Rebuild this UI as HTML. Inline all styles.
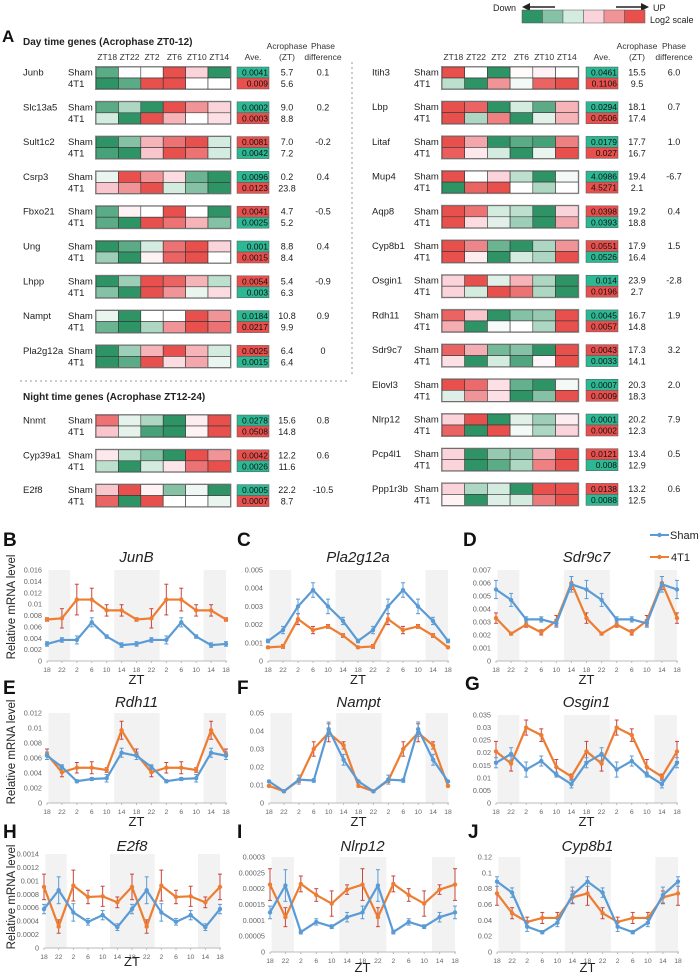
<!DOCTYPE html>
<html><head><meta charset="utf-8"><style>
body{margin:0;background:#fff;}
svg{display:block;font-family:"Liberation Sans",Arial,sans-serif;}
</style></head><body>
<svg id="fig" width="700" height="980" viewBox="0 0 700 980"></svg>
<script>
// ---------- Heatmap data (log2 levels -3 green .. 3 red) ----------
const leftGenes=["Junb","Slc13a5","Sult1c2","Csrp3","Fbxo21","Ung","Lhpp","Nampt","Pla2g12a","Nnmt","Cyp39a1","E2f8"];
const leftSham=[[-2.5,0,0,3,1,-3],[-2.5,-1.5,-3,3,2,1],[-3,-2,1.5,2.5,3,-1],[-0.5,3,2,0.8,-2.3,-3],[-2.5,0.3,0,3,0,-3],[-3,-2.5,-1,2.5,3,1],[-3,-1.7,3,2.7,1.5,-1.3],[-0.5,-3,0,0,3,2],[-3,-1.7,1.5,3,1.5,-1],[2.5,-0.6,-1.5,-3,0.4,3],[0.5,-1.3,-2,-3,3,2],[1.2,3,0.3,-2,-0.4,-3]];
const left4T1=[[-3,-2.5,3,3,0,0],[-1,-3,3,1.5,0,0.7],[-2.7,-3,1.2,3,2.5,-1],[1.2,2,3,-1,-2,-3],[-2.5,-3,3,2.5,1.5,-2],[-1.7,-3,0.3,2.7,3,0],[-2,-3,3,2,-0.5,0.8],[-2.3,-3,-1.5,2,3,2.5],[-3,-2.5,3,0.8,1.7,-0.5],[1.2,-0.6,-2.7,-3,0.3,3],[-1.3,-3,-1,0.6,2.5,3],[2.7,-3,3,0,0,-0.5]];
const leftAveSham=["0.0041","0.0002","0.0081","0.0096","0.0041","0.001","0.0054","0.0184","0.0025","0.0278","0.0042","0.0005"];
const leftAve4T1=["0.009","0.0003","0.0042","0.0123","0.0025","0.0015","0.003","0.0217","0.0015","0.0508","0.0026","0.0007"];
const leftAveShamUp=[0,0,1,0,1,0,1,0,1,0,1,0];
const leftAcroSham=["5.7","9.0","7.0","0.2","4.7","8.8","5.4","10.8","6.4","15.6","12.2","22.2"];
const leftAcro4T1=["5.6","8.8","7.2","23.8","5.2","8.4","6.3","9.9","6.4","14.8","11.6","8.7"];
const leftPhase=["0.1","0.2","-0.2","0.4","-0.5","0.4","-0.9","0.9","0","0.8","0.6","-10.5"];

const rightGenes=["Itih3","Lbp","Litaf","Mup4","Aqp8","Cyp8b1","Osgin1","Rdh11","Sdr9c7","Elovl3","Nlrp12","Pcp4l1","Ppp1r3b"];
const rightSham=[[3,0,-3,0.1,0.3,0],[3,2.7,-3,-1,-2.5,1.5],[3,1.7,-3,-2.5,-2.7,2.3],[3,0,1,-1.3,-3,-0.3],[3,2.5,-1,-1.3,-3,1],[3,2.2,-2.3,-3,-1.5,2],[1,3,-0.7,1.5,-1.5,-3],[2.7,1.2,-3,-2,-1.8,3],[2.7,1.6,-2.2,-2,-3,3],[3,2.6,0.7,-2.4,-3,-0.3],[1,3,-3,-0.7,-1.7,0.4],[1,-3,-1.8,-1.8,1.6,3],[1,-1.5,-1,-3,3,3]];
const right4T1=[[-1.3,-3,2,-0.3,2.7,3],[3,-1.5,2.3,-3,-0.7,1.5],[2.8,0.5,-1,-3,-0.5,3],[-3,2.7,3,0,-1.5,0],[3,0.8,-0.7,-1.7,-3,1.7],[3,0.4,-3,-1,-1.5,3],[1,-1,3,2.5,-1.5,-3],[1.6,-3,-0.2,0,-1.5,3],[0.7,-3,-1,-2.6,0.2,3],[-0.8,2,0.7,-3,-2,3],[2.7,-3,3,-0.3,-1.5,1],[1,-3,-2.5,-1.5,2.3,3],[0.3,-3,-0.8,-1,2.4,3]];
const rightAveSham=["0.0461","0.0294","0.0179","4.0986","0.0398","0.0551","0.014","0.0045","0.0043","0.0007","0.0001","0.0121","0.0138"];
const rightAve4T1=["0.1106","0.0506","0.027","4.5271","0.0393","0.0526","0.0196","0.0057","0.0033","0.0009","0.0002","0.008","0.0088"];
const rightAveShamUp=[0,0,0,0,1,1,0,0,1,0,0,1,1];
const rightAcroSham=["15.5","18.1","17.7","19.4","19.2","17.9","23.9","16.7","17.3","20.3","20.2","13.4","13.2"];
const rightAcro4T1=["9.5","17.4","16.7","2.1","18.8","16.4","2.7","14.8","14.1","18.3","12.3","12.9","12.5"];
const rightPhase=["6.0","0.7","1.0","-6.7","0.4","1.5","-2.8","1.9","3.2","2.0","7.9","0.5","0.6"];
const colHeads=["ZT18","ZT22","ZT2","ZT6","ZT10","ZT14"];

// ---------- Line chart data ----------
const ztLabels=["18","22","2","6","10","14","18","22","2","6","10","14","18"];
const junbSham=[.003,.0037,.0037,.0068,.0043,.0028,.003,.0037,.0037,.0068,.0043,.0028,.003];
const junbShamErr=[.0004,.0004,.0007,.0008,.0003,.0004,.0004,.0004,.0007,.0008,.0003,.0004,.0004];
const junb4T1=[.0073,.0075,.0108,.0108,.0089,.0089,.0073,.0075,.0108,.0108,.0089,.0089,.0073];
const junb4T1Err=[.0003,.0017,.0027,.002,.001,.001,.0003,.0017,.0027,.002,.001,.001,.0003];
const plaSham=[.0011,.0017,.003,.0039,.003,.0022,.0011,.0017,.003,.0039,.003,.0022,.0011];
const plaShamErr=[.0001,.0002,.0004,.0004,.0004,.0002,.0001,.0002,.0004,.0004,.0004,.0002,.0001];
const pla4T1=[.00075,.0008,.0023,.0017,.0019,.0014,.00075,.0008,.0023,.0017,.0019,.0014,.00075];
const pla4T1Err=[.00005,.0001,.0003,.0002,.0001,.0001,.00005,.0001,.0003,.0002,.0001,.0001,.00005];
const sdrSham=[.0055,.0047,.0032,.0032,.0029,.0059,.0055,.0047,.0032,.0032,.0029,.0059,.0055];
const sdrShamErr=[.0007,.0005,.0002,.0002,.0003,.0006,.0007,.0005,.0002,.0002,.0003,.0006,.0007];
const sdr4T1=[.0033,.0021,.0028,.0022,.0031,.006,.0033,.0021,.0028,.0022,.0031,.006,.0033];
const sdr4T1Err=[.0004,.0001,.0002,.0002,.0004,.0005,.0004,.0001,.0002,.0002,.0004,.0005,.0004];
const rdhSham=[.0063,.0048,.0029,.0032,.0033,.0067,.0063,.0048,.0029,.0032,.0033,.0067,.0063];
const rdhShamErr=[.0005,.0003,.0002,.0002,.0005,.0006,.0005,.0003,.0002,.0002,.0005,.0006,.0005];
const rdh4T1=[.0065,.0041,.0047,.0047,.0044,.0097,.0065,.0041,.0047,.0047,.0044,.0097,.0065];
const rdh4T1Err=[.0007,.0006,.0007,.0008,.0003,.0012,.0007,.0006,.0007,.0008,.0003,.0012,.0007];
const namSham=[.012,.0065,.013,.0125,.041,.024,.012,.0065,.013,.0125,.041,.024,.012];
const namShamErr=[.0005,.0005,.0025,.001,.004,.003,.0005,.0005,.0025,.001,.004,.003,.0005];
const nam4T1=[.0095,.0065,.0125,.030,.039,.032,.0095,.0065,.0125,.030,.039,.032,.0095];
const nam4T1Err=[.0005,.0005,.001,.004,.005,.002,.0005,.0005,.001,.004,.005,.002,.0005];
const osgSham=[.016,.0195,.0133,.0167,.0113,.0075,.016,.0195,.0133,.0167,.0113,.0075,.016];
const osgShamErr=[.002,.0025,.003,.002,.001,.0015,.002,.0025,.003,.002,.001,.0015,.002];
const osg4T1=[.0205,.0157,.030,.027,.0143,.0105,.0205,.0157,.030,.027,.0143,.0105,.0205];
const osg4T1Err=[.004,.003,.003,.0025,.003,.001,.004,.003,.003,.0025,.003,.001,.004];
const e2fSham=[.00058,.00086,.00053,.00039,.00049,.00031,.00058,.00086,.00053,.00039,.00049,.00031,.00058];
const e2fShamErr=[.00007,.0002,.00013,.00005,.00007,.00005,.00007,.0002,.00013,.00005,.00007,.00005,.00007];
const e2f4T1=[.00091,.00032,.00093,.00076,.00077,.00068,.00091,.00032,.00093,.00076,.00077,.00068,.00091];
const e2f4T1Err=[.00019,.0001,.00023,.0001,.00015,.00008,.00019,.0001,.00023,.0001,.00015,.00008,.00019];
const nlrSham=[.000125,.00021,.000063,.000095,.00008,.00011,.000125,.00021,.000063,.000095,.00008,.00011,.000125];
const nlrShamErr=[.00002,.00005,.000006,.00001,.000006,.000015,.00002,.00005,.000006,.00001,.000006,.000015,.00002];
const nlr4T1=[.000213,.00011,.000215,.00018,.000153,.000197,.000213,.00011,.000215,.00018,.000153,.000197,.000213];
const nlr4T1Err=[.00005,.00003,.000025,.00002,.00004,.000015,.00005,.00003,.000025,.00002,.00004,.000015,.00005];
const cypSham=[.089,.075,.032,.025,.037,.072,.089,.075,.032,.025,.037,.072,.089];
const cypShamErr=[.006,.006,.006,.002,.005,.01,.006,.006,.006,.002,.005,.01,.006];
const cyp4T1=[.074,.049,.038,.043,.043,.069,.074,.049,.038,.043,.043,.069,.074];
const cyp4T1Err=[.015,.007,.006,.007,.007,.008,.015,.007,.006,.007,.007,.008,.015];

const NS="http://www.w3.org/2000/svg";
const svg=document.getElementById('fig');
function el(tag,attrs,parent,txt){const e=document.createElementNS(NS,tag);for(const k in attrs)e.setAttribute(k,attrs[k]);if(txt!==undefined)e.textContent=txt;(parent||svg).appendChild(e);return e;}

const anchors=[[46,148,102],[133,194,165],[212,235,224],[255,255,255],[251,211,218],[240,148,152],[232,80,78]];
function lvlColor(v){const t=Math.max(-3,Math.min(3,v))+3;const i=Math.min(5,Math.floor(t));const f=t-i;const a=anchors[i],b=anchors[i+1];
 return `rgb(${Math.round(a[0]+(b[0]-a[0])*f)},${Math.round(a[1]+(b[1]-a[1])*f)},${Math.round(a[2]+(b[2]-a[2])*f)})`;}

// Legend
const lg=el('g',{});


el('text',{x:493,y:11,'font-size':9,fill:'#222'},lg,'Down');
el('line',{x1:555,y1:7,x2:527,y2:7,stroke:'#222','stroke-width':1.5},lg);
el('path',{d:'M522 7 L530 3 L530 11 Z',fill:'#222'},lg);
el('line',{x1:616,y1:7,x2:644,y2:7,stroke:'#222','stroke-width':1.5},lg);
el('path',{d:'M649 7 L641 3 L641 11 Z',fill:'#222'},lg);
el('text',{x:653,y:11,'font-size':9,fill:'#222'},lg,'UP');
[-3,-2,-1,1,2,3].forEach((v,i)=>{const r=el('rect',{x:522+i*20.5,y:10,width:20.5,height:13,fill:lvlColor(v),stroke:'#555','stroke-width':0.5},lg);
 
 });
el('text',{x:650,y:23,'font-size':9,fill:'#222'},lg,'Log2 scale');

el('text',{x:2,y:42,'font-size':17,'font-weight':'bold',fill:'#111'},svg,'A');
const dt=el('text',{x:23,y:45,'font-size':10,'font-weight':'bold',fill:'#222'},svg,'Day time genes (Acrophase ZT0-12)');


const nt=el('text',{x:23,y:400,'font-size':10,'font-weight':'bold',fill:'#222'},svg,'Night time genes (Acrophase ZT12-24)');


el('line',{x1:20,y1:381,x2:350,y2:381,stroke:'#999','stroke-width':1,'stroke-dasharray':'2,3'});
el('line',{x1:352,y1:62,x2:352,y2:375,stroke:'#999','stroke-width':1,'stroke-dasharray':'2,3'});

function heatSide(cfg){
 const hx=cfg.cellX0,cw=cfg.cellW;
 colHeads.forEach((h,i)=>el('text',{x:hx+cw*i+cw/2,y:60,'font-size':8.5,'text-anchor':'middle',fill:'#333'},svg,h));
 el('text',{x:cfg.aveX+16,y:60,'font-size':8.5,'text-anchor':'middle',fill:'#333'},svg,'Ave.');
 el('text',{x:cfg.acroX,y:49,'font-size':8.5,'text-anchor':'middle',fill:'#333'},svg,'Acrophase');
 el('text',{x:cfg.acroX,y:60,'font-size':8.5,'text-anchor':'middle',fill:'#333'},svg,'(ZT)');
 el('text',{x:cfg.phX,y:49,'font-size':8.5,'text-anchor':'middle',fill:'#333'},svg,'Phase');
 el('text',{x:cfg.phX,y:60,'font-size':8.5,'text-anchor':'middle',fill:'#333'},svg,'difference');
 cfg.genes.forEach((g,gi)=>{
  const cy=cfg.centers[gi];const top=cy-5;
  const grp=el('g',{});
  
  
  el('text',{x:cfg.nameX,y:top+8.5,'font-size':9.5,fill:'#222'},grp,g);
  el('text',{x:cfg.grpX,y:top+8.5,'font-size':9.5,fill:'#222'},grp,'Sham');
  el('text',{x:cfg.grpX,y:top+20,'font-size':9.5,fill:'#222'},grp,'4T1');
  [cfg.sham[gi],cfg.t1[gi]].forEach((row,ri)=>{
   row.forEach((v,ci)=>{const r=el('rect',{x:hx+ci*cw,y:top+ri*11,width:cw,height:11,fill:lvlColor(v),stroke:'#333','stroke-width':0.6},grp);
    
    });
  });
  el('rect',{x:hx-0.5,y:top-0.5,width:cw*6+1,height:23,fill:'none',stroke:'#888','stroke-width':1},grp);
  const up=cfg.aveUp[gi];
  const teal='#2db894',red='#e8504e';
  el('rect',{x:cfg.aveX,y:top,width:32,height:11,fill:up?red:teal,stroke:'#555','stroke-width':0.5},grp);
  el('rect',{x:cfg.aveX,y:top+11,width:32,height:11,fill:up?teal:red,stroke:'#555','stroke-width':0.5},grp);
  el('text',{x:cfg.aveX+31,y:top+8.5,'font-size':8.5,'text-anchor':'end',fill:'#111'},grp,cfg.aveS[gi]);
  el('text',{x:cfg.aveX+31,y:top+19.5,'font-size':8.5,'text-anchor':'end',fill:'#111'},grp,cfg.aveT[gi]);
  el('text',{x:cfg.acroX,y:top+8.5,'font-size':9,'text-anchor':'middle',fill:'#222'},grp,cfg.acS[gi]);
  el('text',{x:cfg.acroX,y:top+20,'font-size':9,'text-anchor':'middle',fill:'#222'},grp,cfg.acT[gi]);
  el('text',{x:cfg.phX,y:top+8.5,'font-size':9,'text-anchor':'middle',fill:'#222'},grp,cfg.ph[gi]);
 });
}
const lc=[];for(let i=0;i<9;i++)lc.push(72+34.8*i);for(let i=0;i<3;i++)lc.push(420+34.8*i);
const rc=[];for(let i=0;i<13;i++)rc.push(72+34.7*i);
heatSide({genes:leftGenes,sham:leftSham,t1:left4T1,aveS:leftAveSham,aveT:leftAve4T1,aveUp:leftAveShamUp,acS:leftAcroSham,acT:leftAcro4T1,ph:leftPhase,centers:lc,cellX0:96,cellW:22.4,aveX:237,acroX:287,phX:323,nameX:23,grpX:68});
heatSide({genes:rightGenes,sham:rightSham,t1:right4T1,aveS:rightAveSham,aveT:rightAve4T1,aveUp:rightAveShamUp,acS:rightAcroSham,acT:rightAcro4T1,ph:rightPhase,centers:rc,cellX0:442,cellW:22.7,aveX:586,acroX:637,phX:674,nameX:372,grpX:414});

// ---------- line charts ----------
const panels=[
 {id:'junb',L:'B',lx:3,ly:546,t:'JunB',x0:47,x1:226,y0:570,y1:661,ymax:.016,step:.002,d:3,s:junbSham,se:junbShamErr,o:junb4T1,oe:junb4T1Err,ty:562,zty:684},
 {id:'pla2g12a',L:'C',lx:237,ly:546,t:'Pla2g12a',x0:268,x1:448,y0:570,y1:661,ymax:.005,step:.001,d:3,s:plaSham,se:plaShamErr,o:pla4T1,oe:pla4T1Err,ty:562,zty:684},
 {id:'sdr9c7',L:'D',lx:463,ly:546,t:'Sdr9c7',x0:496,x1:677,y0:570,y1:661,ymax:.007,step:.001,d:3,s:sdrSham,se:sdrShamErr,o:sdr4T1,oe:sdr4T1Err,ty:562,zty:684},
 {id:'rdh11',L:'E',lx:3,ly:694,t:'Rdh11',x0:47,x1:226,y0:713,y1:803,ymax:.012,step:.002,d:3,s:rdhSham,se:rdhShamErr,o:rdh4T1,oe:rdh4T1Err,ty:707,zty:826},
 {id:'nampt',L:'F',lx:237,ly:694,t:'Nampt',x0:269,x1:448,y0:713,y1:803,ymax:.05,step:.01,d:2,s:namSham,se:namShamErr,o:nam4T1,oe:nam4T1Err,ty:707,zty:826},
 {id:'osgin1',L:'G',lx:465,ly:690,t:'Osgin1',x0:496,x1:677,y0:715,y1:803,ymax:.035,step:.005,d:3,s:osgSham,se:osgShamErr,o:osg4T1,oe:osg4T1Err,ty:707,zty:826},
 {id:'e2f8',L:'H',lx:3,ly:838,t:'E2f8',x0:44,x1:220,y0:854,y1:948,ymax:.0014,step:.0002,d:4,s:e2fSham,se:e2fShamErr,o:e2f4T1,oe:e2f4T1Err,ty:851,zty:966},
 {id:'nlrp12',L:'I',lx:237,ly:838,t:'Nlrp12',x0:270,x1:455,y0:857,y1:952,ymax:.0003,step:.00005,d:5,s:nlrSham,se:nlrShamErr,o:nlr4T1,oe:nlr4T1Err,ty:851,zty:972},
 {id:'cyp8b1',L:'J',lx:468,ly:838,t:'Cyp8b1',x0:497,x1:678,y0:857,y1:952,ymax:.12,step:.02,d:2,s:cypSham,se:cypShamErr,o:cyp4T1,oe:cyp4T1Err,ty:851,zty:972}
];
const shading=[[0.1,1.55],[4.5,7.55],[10.5,12]];
function fmt(v,d){if(v===0)return '0';let s=v.toFixed(d);s=s.replace(/0+$/,'').replace(/\.$/,'');return s;}
panels.forEach(p=>{
 const g=el('g',{});
 
 
 const n=ztLabels.length;
 const xs=i=>p.x0+(p.x1-p.x0)*i/(n-1);
 const ys=v=>p.y1-(p.y1-p.y0)*v/p.ymax;
 shading.forEach(s=>el('rect',{x:xs(s[0]),y:p.y0,width:xs(s[1])-xs(s[0]),height:p.y1-p.y0,fill:'#f2f2f2'},g));
 el('line',{x1:p.x0,y1:p.y1,x2:p.x1+1,y2:p.y1,stroke:'#bbb','stroke-width':1},g);
 const nt=Math.round(p.ymax/p.step);
 for(let k=0;k<=nt;k++){const v=k*p.step;el('text',{x:p.x0-5,y:ys(v)+2.5,'font-size':7.3,'text-anchor':'end',fill:'#666'},g,fmt(v,p.d));}
 ztLabels.forEach((l,i)=>{el('line',{x1:xs(i),y1:p.y1,x2:xs(i),y2:p.y1+2,stroke:'#bbb'},g);
  el('text',{x:xs(i),y:p.y1+11,'font-size':6.8,'text-anchor':'middle',fill:'#666'},g,l);});
 el('text',{x:(p.x0+p.x1)/2,y:p.ty,'font-size':15,'font-style':'italic','text-anchor':'middle',fill:'#222'},g,p.t);
 el('text',{x:(p.x0+p.x1)/2,y:p.zty,'font-size':13,'text-anchor':'middle',fill:'#222'},g,'ZT');
 el('text',{x:p.lx,y:p.ly,'font-size':19,'font-weight':'bold',fill:'#111'},g,p.L);
 [[p.o,p.oe,'#ed7d31','#c9463d','4t1'],[p.s,p.se,'#5b9bd5','#5b9bd5','sham']].forEach(([vals,err,col,ecol,nm])=>{
  vals.forEach((v,i)=>{const x=xs(i);el('line',{x1:x,y1:ys(v-err[i]),x2:x,y2:ys(v+err[i]),stroke:ecol,'stroke-width':1},g);
   el('line',{x1:x-2,y1:ys(v+err[i]),x2:x+2,y2:ys(v+err[i]),stroke:ecol,'stroke-width':1},g);
   el('line',{x1:x-2,y1:ys(v-err[i]),x2:x+2,y2:ys(v-err[i]),stroke:ecol,'stroke-width':1},g);});
  const pl=el('polyline',{points:vals.map((v,i)=>xs(i)+','+ys(v)).join(' '),fill:'none',stroke:col,'stroke-width':2.2},g);
  
  
  vals.forEach((v,i)=>{const c=el('circle',{cx:xs(i),cy:ys(v),r:2.2,fill:col},g);
   
   });
 });
});
// y axis titles
[607,752,897].forEach(cy=>{const t=el('text',{x:0,y:0,'font-size':11.5,'text-anchor':'middle',fill:'#222',transform:`translate(15,${cy}) rotate(-90)`},svg,'Relative mRNA level');
 
 });
// series legend
const sl=el('g',{});


el('line',{x1:650,y1:535,x2:669,y2:535,stroke:'#5b9bd5','stroke-width':2},sl);
el('circle',{cx:659.5,cy:535,r:2.2,fill:'#5b9bd5'},sl);
el('text',{x:670,y:539,'font-size':11,fill:'#222'},sl,'Sham');
el('line',{x1:650,y1:557,x2:669,y2:557,stroke:'#ed7d31','stroke-width':2},sl);
el('circle',{cx:659.5,cy:557,r:2.2,fill:'#ed7d31'},sl);
el('text',{x:671,y:561,'font-size':11,fill:'#222'},sl,'4T1');
</script>
</body></html>
